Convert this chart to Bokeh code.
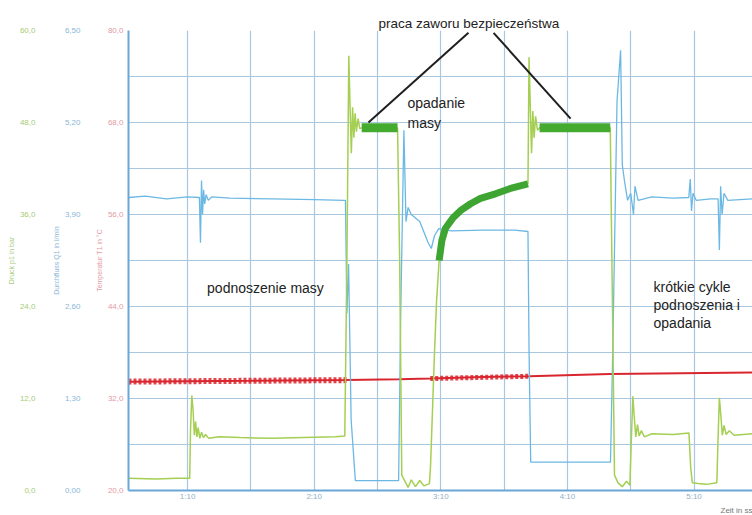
from bokeh.plotting import figure
from bokeh.models import Range1d, LinearAxis, FixedTicker, CustomJSTickFormatter, Grid, Label, Title
from bokeh.embed import file_html
from bokeh.resources import INLINE

# ---------------- data (time in seconds) ----------------
green_t = [42.0, 55, 65, 71.0, 71.4, 72.0, 72.6, 73.2, 73.8, 74.4, 75.0, 75.8, 76.6, 77.5, 78.5, 80, 85, 95, 110,
           125, 140, 144.5, 145.5, 146.4, 147.0, 147.6, 148.2, 148.8, 149.4, 150.0, 150.8, 151.6, 152.5, 169.5,
           170.5, 171.5, 173, 174.5, 176, 178, 180, 182, 184.6, 185.1, 186, 187, 188, 189.2, 190.5, 192.2, 195.6,
           199.3, 204.1, 208.8, 215.9, 223, 231.3, 231.8, 232.4, 233, 233.6, 234.2, 234.9, 235.8, 236.8, 270.3,
           271.3, 272.3, 274, 276, 278, 279.6, 280.2, 281.0, 281.7, 282.4, 283.2, 284.0, 285.0, 286.5, 290, 300,
           307.6, 308.4, 309.2, 312, 316, 320.8, 321.4, 322.0, 322.7, 323.4, 324.2, 325.2, 326.7, 329, 337.7]
green_p = [1.6, 1.5, 1.6, 1.6, 8, 12.4, 10.5, 7.2, 9.0, 7.0, 8.2, 6.8, 7.6, 6.9, 7.3, 6.8, 7.0, 6.9, 6.8,
           6.9, 7.0, 7.1, 30, 56.7, 50, 44.0, 50.0, 46.0, 49.2, 46.8, 48.5, 47.2, 47.3, 47.3,
           30, 2.0, 1.2, 0.4, 1.4, 0.5, 1.3, 0.6, 0.9, 3, 10, 18, 24.8, 30, 32.6, 34.2, 35.5,
           36.5, 37.4, 38.1, 38.7, 39.4, 40.0, 56.5, 50, 44, 49.5, 46, 48.8, 47, 47.3, 47.3,
           25, 2.0, 1.0, 0.5, 1.2, 0.7, 6, 12.3, 9.5, 7.0, 8.6, 7.1, 7.8, 7.0, 7.4, 7.3,
           7.5, 3, 1.0, 0.9, 0.8, 1.0, 7, 12.1, 9.8, 7.2, 8.5, 7.3, 7.8, 7.2, 7.4]

# thick oscillation bands (relief valve plateaus and lowering curve)
band1_t = [152.5, 169.5]
band1_p = [47.3, 47.3]
band2_t = [236.8, 270.3]
band2_p = [47.3, 47.3]
curve_t = [189.2, 190.5, 192.2, 195.6, 199.3, 204.1, 208.8, 215.9, 223, 231.3]
curve_p = [30, 32.6, 34.2, 35.5, 36.5, 37.4, 38.1, 38.7, 39.4, 40.0]

blue_t = [42, 50, 60, 70, 75.6, 76.1, 76.6, 77.1, 77.6, 78.1, 78.8, 79.8, 81.5, 90, 110, 130, 144.3, 144.8,
          145.5, 146.3, 147.5, 149.5, 170, 171.0, 172.5, 173.5, 174.5, 176, 180, 184, 185.5, 187, 189, 195,
          210, 225, 231.3, 231.8, 232.6, 270.4, 271.5, 273.5, 275.2, 276.0, 277, 278.5, 280, 281.3, 282,
          283.5, 290, 300, 307.5, 308.2, 308.8, 309.5, 311, 318, 321.4, 322.0, 322.6, 323.3, 324.2, 326, 337.7]
blue_q = [4.14, 4.16, 4.12, 4.15, 4.14, 3.5, 4.38, 3.9, 4.25, 4.05, 4.18, 4.1, 4.15, 4.13, 4.12, 4.11, 4.10, 4.1,
          2.5, 3.2, 1.0, 0.14, 0.14, 2.5, 5.09, 3.8, 4.0, 3.9, 3.8, 3.5, 3.42, 3.6, 3.7, 3.67,
          3.68, 3.68, 3.66, 2.0, 0.4, 0.4, 2.0, 5.5, 6.22, 4.6, 4.38, 4.1, 4.2, 3.9, 4.3,
          4.1, 4.15, 4.13, 4.14, 4.4, 3.95, 4.2, 4.1, 4.12, 4.12, 3.4, 4.3, 3.9, 4.2, 4.1, 4.12]

red_t = [42, 100, 145, 170, 185, 210, 232, 270, 337.7]
red_T = [34.2, 34.3, 34.4, 34.5, 34.6, 34.8, 34.9, 35.2, 35.4]
red_thick1_t = [42, 146]
red_thick1_T = [34.2, 34.4]
red_thick2_t = [185, 232]
red_thick2_T = [34.6, 34.9]

x_ticks = [70, 130, 190, 250, 310]
green_ticks = [0, 12, 24, 36, 48, 60]
blue_ticks = [0, 1.3, 2.6, 3.9, 5.2, 6.5]
red_ticks = [20, 32, 44, 56, 68, 80]

# annotation pointer lines (time, pressure)
ptr_x0 = [203.1, 215.0]
ptr_y0 = [59.7, 59.7]
ptr_x1 = [155.7, 251.5]
ptr_y1 = [48.0, 48.5]

# ---------------- figure ----------------
GRID = "#a9c8e0"
AXIS = "#6aa6d6"

p = figure(frame_width=624, frame_height=460,
           x_range=Range1d(42, 337.7), y_range=Range1d(0, 60),
           y_axis_location=None, output_backend="svg", toolbar_location=None,
           min_border_left=128, min_border_right=0, min_border_top=30, min_border_bottom=20)
p.extra_y_ranges = {"blue": Range1d(0, 6.5), "red": Range1d(20, 80)}
p.grid.visible = False
p.outline_line_color = None
p.background_fill_color = "white"
p.border_fill_color = "white"

p.title.text = "praca zaworu bezpieczeństwa"
p.title.align = "left"
p.title.offset = 250
p.title.standoff = 0
p.title.text_font = "Liberation Sans"
p.title.text_font_size = "13.5px"
p.title.text_font_style = "normal"
p.title.text_color = "#222222"

p.add_layout(Grid(dimension=0, ticker=FixedTicker(ticks=list(range(70, 338, 30))),
                  grid_line_color=GRID, grid_line_width=1.2))
p.add_layout(Grid(dimension=1, ticker=FixedTicker(ticks=list(range(0, 61, 6))),
                  grid_line_color=GRID, grid_line_width=1.2))

fmt1 = CustomJSTickFormatter(code="return tick.toFixed(1).replace('.', ',');")
fmt2 = CustomJSTickFormatter(code="return tick.toFixed(2).replace('.', ',');")

def style_axis(ax, color, standoff, line=False):
    ax.major_label_text_font_size = "8px"
    ax.major_label_text_font = "Liberation Sans"
    ax.major_label_text_color = color
    ax.axis_label_text_font_size = "7px"
    ax.axis_label_text_font = "Liberation Sans"
    ax.axis_label_text_font_style = "normal"
    ax.axis_label_text_color = color
    ax.axis_label_standoff = 2
    ax.major_label_standoff = standoff
    ax.major_tick_in = 0
    ax.major_tick_out = 0
    ax.minor_tick_in = 0
    ax.minor_tick_out = 0
    if line:
        ax.axis_line_color = AXIS
        ax.axis_line_width = 2
    else:
        ax.axis_line_color = None

red_axis = LinearAxis(y_range_name="red", ticker=FixedTicker(ticks=red_ticks), formatter=fmt1,
                      axis_label="Temperatur T1 in °C")
style_axis(red_axis, "#e39aa6", 5, line=True)
blue_axis = LinearAxis(y_range_name="blue", ticker=FixedTicker(ticks=blue_ticks), formatter=fmt2,
                       axis_label="Durchfluss Q1 in l/min")
style_axis(blue_axis, "#8ab6d8", 12)
green_axis = LinearAxis(ticker=FixedTicker(ticks=green_ticks), formatter=fmt1,
                        axis_label="Druck p1 in bar")
style_axis(green_axis, "#a6cc78", 14)
p.add_layout(red_axis, "left")
p.add_layout(blue_axis, "left")
p.add_layout(green_axis, "left")

xa = p.xaxis[0]
xa.ticker = FixedTicker(ticks=x_ticks)
xa.formatter = CustomJSTickFormatter(code="const m=Math.floor(tick/60); const s=Math.round(tick%60); return m+':'+(s<10?'0':'')+s;")
xa.major_label_text_font_size = "8px"
xa.major_label_text_font = "Liberation Sans"
xa.major_label_text_color = "#8fb0c8"
xa.major_label_standoff = 1
xa.major_tick_in = 0
xa.major_tick_out = 0
xa.minor_tick_in = 0
xa.minor_tick_out = 0
xa.axis_line_color = AXIS
xa.axis_line_width = 2

p.add_layout(Title(text="Zeit in ss", align="right", standoff=0, text_font="Liberation Sans",
                   text_font_size="8px", text_font_style="normal", text_color="#777777"), "below")

# ---------------- traces ----------------
p.line(red_t, red_T, y_range_name="red", line_color="#d9262e", line_width=2)
p.line(red_thick1_t, red_thick1_T, y_range_name="red", line_color="#d9262e", line_width=6, line_dash="3 2", line_alpha=0.85)
p.line(red_thick2_t, red_thick2_T, y_range_name="red", line_color="#d9262e", line_width=5, line_dash="3 2", line_alpha=0.85)

p.line(blue_t, blue_q, y_range_name="blue", line_color="#6cb8e4", line_width=1.3)

p.line(green_t, green_p, line_color="#a4cf52", line_width=1.5)
p.line(curve_t, curve_p, line_color="#3ea532", line_width=7)
p.line(band1_t, band1_p, line_color="#45ab30", line_width=9)
p.line(band2_t, band2_p, line_color="#45ab30", line_width=9)

# ---------------- annotations ----------------
p.segment(x0=ptr_x0, y0=ptr_y0, x1=ptr_x1, y1=ptr_y1, line_color="#1f1f1f", line_width=2)

TXT = "#222222"
def note(x, y, text, align="left"):
    p.add_layout(Label(x=x, y=y, text=text, text_font="Liberation Sans", text_font_size="14px",
                       text_color=TXT, text_align=align, text_baseline="middle"))

note(174.2, 50.5, "opadanie")
note(174.2, 48.0, "masy")
note(106.9, 26.35, "podnoszenie masy", "center")
note(290.8, 26.6, "krótkie cykle")
note(290.8, 24.26, "podnoszenia i")
note(290.8, 21.9, "opadania")

open("out.html", "w").write(file_html(p, INLINE))
